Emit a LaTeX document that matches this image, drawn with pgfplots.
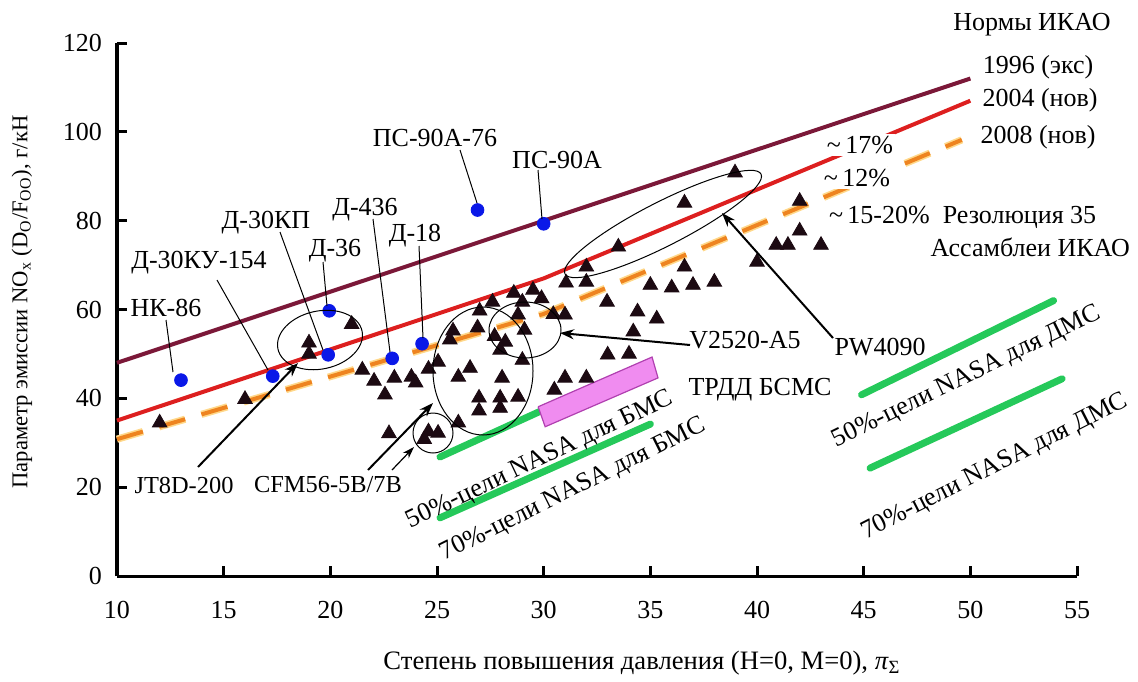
\documentclass[border=0pt]{standalone}
\usepackage{fontspec}
\setmainfont{Liberation Serif}
\usepackage{pgfplots}
\pgfplotsset{compat=1.18}
\usetikzlibrary{arrows.meta}
\definecolor{cA}{HTML}{7B1838}
\definecolor{cB}{HTML}{DD1F1F}
\definecolor{cC}{HTML}{EE8420}
\definecolor{cCglow}{HTML}{FFD88A}
\definecolor{cG}{HTML}{25C95A}
\definecolor{cP}{HTML}{F08CF0}
\definecolor{cPd}{HTML}{B040B0}
\definecolor{tri}{HTML}{1C0A12}
\definecolor{dot}{HTML}{0A18E8}
\begin{document}
\begin{tikzpicture}
\begin{axis}[
  at={(0,0)}, anchor=south west,
  scale only axis, width=480pt, height=266.5pt,
  xmin=10, xmax=55, ymin=0, ymax=120,
  axis x line*=bottom, axis y line*=left,
  axis line style={line width=1.5pt, black, -},
  xtick={10,15,...,55}, ytick={0,20,...,120},
  tick align=inside, major tick length=5pt,
  tick style={line width=1.5pt, black},
  /pgf/number format/assume math mode=true,
  ticklabel style={font=\fontsize{13}{15}\selectfont},
  xticklabel style={yshift=-9pt},
  yticklabel style={xshift=-4pt},
  clip=false,
]
% ICAO norms
\addplot[cA, line width=2pt] coordinates {(10,48) (50,112)};
\addplot[cB, line width=2pt] coordinates {(10,35) (30,67) (50,107)};
\addplot[cCglow, line width=3.6pt, dash pattern=on 13.5pt off 8.5pt] coordinates {(10,30.8) (30,59) (49.6,98.2)};
\addplot[cC, line width=2pt, dash pattern=on 13.5pt off 8.5pt] coordinates {(10,30.8) (30,59) (49.6,98.2)};
% NASA goals
\addplot[cG, line width=3.5pt, line cap=round] coordinates {(25.14,26.8) (29.8,37.0)};
\addplot[cG, line width=3.5pt, line cap=round] coordinates {(25.14,13.1) (35,34.2)};
\addplot[cG, line width=3.5pt, line cap=round] coordinates {(44.9,40.8) (53.9,62.0)};
\addplot[cG, line width=3.5pt, line cap=round] coordinates {(45.3,24.3) (54.3,44.4)};
% BSMS box
\addplot[fill=cP, draw=cPd, line width=0.6pt] coordinates {(29.74,38.1) (35.08,49.3) (35.36,44.6) (30.07,33.6) (29.74,38.1)};
% engines (triangles)
\addplot[only marks, mark=triangle*, mark size=4.2pt, mark options={fill=tri, draw=tri}] coordinates {
(12,34.5) (16,39.8) (19,52.5) (19,50) (21,56.7) (21.5,46.4) (22.05,43.9) (22.56,40.8)
(23,44.6) (22.75,32.1) (23.8,44.8) (24,43.5) (24.6,46.6) (25.05,48.2) (25.6,53.2) (25.75,55.2)
(26,44.8) (26.55,46.8) (26.9,55.9) (27,59.7) (27.6,61.7) (27.7,54) (28.05,44.6) (28.2,52.7)
(27.96,50.9) (26.97,40.1) (26.97,37.2) (27.96,40.1) (27.96,37.8) (28.8,40.3) (26,34.5)
(24.6,32.5) (25.05,32.2) (24.4,30.8) (28.6,63.7) (29.5,64.4) (29,61.7) (28.8,58.8) (29.1,55.4)
(29,48.6) (29.9,62.5) (30.45,58.9) (31.05,66) (31,44.6) (30.5,41.9) (38.97,90.8) (36.6,84)
(33.5,74.1) (32,69.6) (32,66.2) (36.6,69.6) (35,65.5) (36,64.9) (37,65.5) (38,66.2)
(32.97,61.7) (34.4,59.5) (35.3,57.9) (34.2,55) (31,58.8) (33,49.8) (34,50) (32,44.6)
(40,70.7) (40.9,74.5) (41.45,74.5) (42,84.4) (42,77.7) (43,74.5)
};
% Russian engines (blue dots)
\addplot[only marks, mark=*, mark size=3.2pt, mark options={fill=dot, draw=dot}] coordinates {
(13,44.1) (17.3,45) (19.9,49.8) (19.95,59.7) (22.9,49) (24.3,52.3) (26.9,82.4) (30,79.3)
};
\end{axis}
% annotations in pixel frame (origin top-left of picture)
\begin{scope}[shift={(-58.5pt,288pt)}, x=0.5pt, y=-0.5pt, font=\fontsize{13}{15}\selectfont]
  % axis titles
  \node[rotate=90, font=\fontsize{11.3}{13}\selectfont] at (22,302) {Параметр эмиссии NO\textsubscript{x} (D\textsubscript{O}/F\textsubscript{OO}), г/кН};
  \node[font=\fontsize{13.3}{15}\selectfont] at (642,663) {Степень повышения давления (Н=0, М=0), \textit{π}\textsubscript{Σ}};
  % right legend texts
  \node at (1032,25) {Нормы ИКАО};
  \node at (1038,67) {1996 (экс)};
  \node at (1040,100) {2004 (нов)};
  \node at (1038,137) {2008 (нов)};
  \node[fill=white, inner sep=1pt] at (860,145) {\textasciitilde\,17\%};
  \node[fill=white, inner sep=1pt] at (857,178) {\textasciitilde\,12\%};
  \node[anchor=west] at (822,217) {\textasciitilde\,15-20\%\ \ Резолюция 35};
  \node[anchor=east] at (1137,247) {Ассамблеи ИКАО};
  % engine labels and leaders
  \draw[line width=0.5pt] (166,320) -- (173,372);
  \draw[line width=0.5pt] (217,280) -- (268,370);
  \draw[line width=0.5pt] (280,232) -- (323,350);
  \draw[line width=0.5pt] (323,262) -- (327,306);
  \draw[line width=0.5pt] (373,219) -- (390,352);
  \draw[line width=0.5pt] (419,246) -- (423,338);
  \draw[line width=0.5pt] (460,150) -- (477,203);
  \draw[line width=0.5pt] (538,170) -- (542,219);
  \node at (435,138) {ПС-90А-76};
  \node at (557,160) {ПС-90А};
  \node at (365,210) {Д-436};
  \node at (415,236) {Д-18};
  \node at (266,223) {Д-30КП};
  \node at (335,251) {Д-36};
  \node at (199,263) {Д-30КУ-154};
  \node at (166,308) {НК-86};
  \node[font=\fontsize{12.2}{14}\selectfont] at (184,485) {JT8D-200};
  \node[font=\fontsize{12.2}{14}\selectfont] at (328,485) {CFM56-5B/7B};
  \node at (745,340) {V2520-A5};
  \node at (880,347) {PW4090};
  \node at (760,390) {ТРДД БСМС};
  % arrows
  \draw[line width=1pt, -{Stealth[length=7pt,width=5pt]}] (198,467) -- (298,363);
  \draw[line width=1pt, -{Stealth[length=7pt,width=5pt]}] (368,470) -- (433,403);
  \draw[line width=0.6pt, -{Stealth[length=6pt,width=4pt]}] (392,470) -- (414,447);
  \draw[line width=1pt, -{Stealth[length=7pt,width=5pt]}] (690,345) -- (560,333);
  \draw[line width=1pt, -{Stealth[length=7pt,width=5pt]}] (833,338) -- (722,213);
  % ellipses
  \draw[line width=0.5pt] (483,371) ellipse [x radius=50, y radius=64];
  \draw[line width=0.5pt] (525,330) ellipse [x radius=36, y radius=28];
  \draw[line width=0.5pt] (433,433) ellipse [x radius=20, y radius=20];
  \coordinate (e1) at (320,340);
  \coordinate (e2) at (663,224);
  % NASA labels
  \node[rotate=25.5, font=\fontsize{13}{15}\selectfont] at (540,460) {50\%-цели NASA для БМС};
  \node[rotate=26.5, font=\fontsize{13}{15}\selectfont] at (573,490) {70\%-цели NASA для БМС};
  \node[rotate=26, font=\fontsize{13}{15}\selectfont] at (967,377) {50\%-цели NASA для ДМС};
  \node[rotate=27, font=\fontsize{13}{15}\selectfont] at (995,467) {70\%-цели NASA для ДМС};
\end{scope}
\draw[line width=0.5pt, rotate around={12:(e1)}] (e1) ellipse [x radius=21.5pt, y radius=14.5pt];
\draw[line width=0.5pt, rotate around={27:(e2)}] (e2) ellipse [x radius=55pt, y radius=11pt];
\pgfresetboundingbox
\path (-58.5pt,-52.5pt) rectangle (510.5pt,288pt);
\end{tikzpicture}
\end{document}
